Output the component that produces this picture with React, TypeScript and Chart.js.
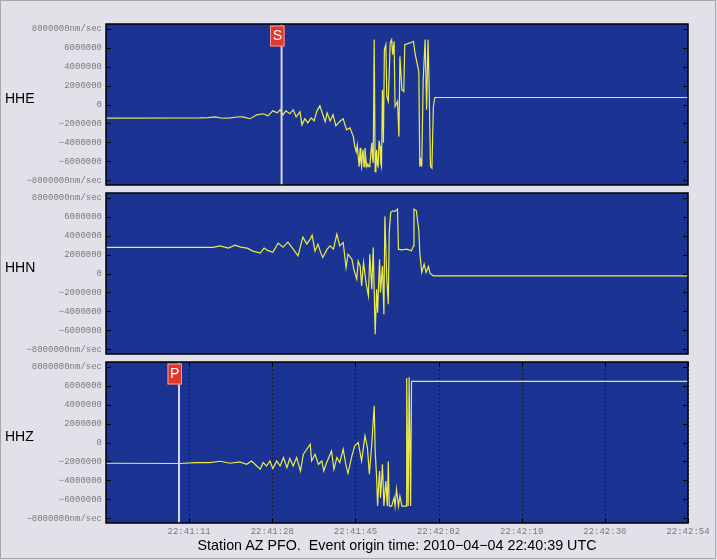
import React, { useEffect, useRef } from 'react';
import { Chart, registerables } from 'chart.js';

Chart.register(...registerables);

// ---------- data (time in seconds after 22:40:54 UTC, amplitude in millions of nm/sec) ----------
const channelNames = ['HHE', 'HHN', 'HHZ'];

const yTickValues = [-8, -6, -4, -2, 0, 2, 4, 6, 8];
const yTickLabels = [
  '\u22128000000nm/sec', '\u22126000000', '\u22124000000', '\u22122000000', '0',
  '2000000', '4000000', '6000000', '8000000nm/sec',
];
const xTickSeconds = [17.14, 34.29, 51.43, 68.57, 85.71, 102.86, 120];
const xTickLabels = ['22:41:11', '22:41:28', '22:41:45', '22:42:02', '22:42:19', '22:42:36', '22:42:54'];

const hheTimes = [
  0, 19.4, 21.0, 22.5, 24.0, 25.6, 27.0, 28.2, 29.7, 31.1, 32.4, 33.4, 34.4, 35.3, 35.9, 36.5, 37.1, 37.9,
  38.6, 39.2, 40.0, 40.4, 41.0, 41.6, 42.3, 42.9, 43.5, 44.1, 44.5, 45.2, 45.6, 46.2, 46.8, 47.4, 48.2,
  48.9, 49.6, 50.3, 51.0, 51.3, 51.6, 51.8, 52.0, 52.2, 52.4, 52.55, 52.7, 52.85, 53.0, 53.2, 53.4, 53.6,
  53.8, 54.0, 54.2, 54.4, 54.6, 54.8, 54.95, 55.1, 55.3, 55.5, 55.65, 55.8, 55.95, 56.1, 56.3, 56.5, 56.65,
  56.8, 57.0, 57.2, 57.4, 57.7, 57.9, 58.2, 58.6, 58.9, 59.1, 59.4, 59.6, 60.1, 60.4, 60.6, 61.0, 61.4,
  61.6, 62.7, 63.4, 63.7, 64.2, 64.5, 64.7, 64.9, 65.1, 65.4, 65.8, 66.1, 66.4, 66.6, 66.9, 67.2, 67.5,
  67.8, 120,
];
const hheValues = [
  -1.44, -1.41, -1.38, -1.3, -1.45, -1.41, -1.32, -1.3, -1.5, -1.09, -0.98, -1.2, -0.67, -0.88, -0.56, -1.09, -0.67, -0.98,
  -0.56, -1.3, -0.77, -2.15, -1.5, -1.94, -1.41, -1.73, -0.67, -0.14, -0.77, -1.83, -0.88, -1.73, -1.09, -2.25, -1.8,
  -1.51, -2.68, -2.47, -3.39, -4.44, -5.0, -4.3, -5.5, -6.56, -4.58, -6.0, -6.56, -5.4, -4.79, -6.56, -4.58, -5.9,
  -6.56, -6.3, -6.56, -6.56, -5.2, -4.05, -5.6, -6.17, 6.85, -7.09, -5.5, -4.79, -6.4, -6.56, -3.8, -4.44, -6.2,
  -6.56, 1.56, -4.05, 5.79, 6.32, 0.85, 0.32, 6.5, 6.85, 5.26, 6.67, -0.21, 0.32, -3.39, 5.08, 1.56, 1.38,
  6.32, 6.5, 6.67, 5.44, 4.2, 3.49, -6.56, -5.9, -6.56, 2.61, 6.85, -0.56, 6.85, 2.61, -6.56, -6.73, -0.21,
  0.74, 0.74,
];

const hhnTimes = [
  0, 22.1, 23.5, 25.2, 26.6, 27.8, 29.1, 30.3, 31.8, 32.6, 33.2, 34.4, 35.5, 36.5, 37.5, 38.6, 39.6, 40.2,
  40.6, 41.4, 42.1, 42.5, 43.1, 43.7, 44.3, 44.7, 45.6, 46.2, 46.9, 47.6, 48.2, 48.9, 49.5, 49.9, 50.7,
  51.1, 51.7, 52.0, 52.4, 52.7, 53.1, 53.6, 54.1, 54.4, 54.8, 55.1, 55.5, 55.8, 56.0, 56.4, 56.6, 57.0,
  57.3, 57.5, 57.9, 58.2, 58.4, 58.7, 59.1, 59.6, 60.1, 60.3, 61.0, 62.0, 63.0, 63.4, 63.5, 64.0, 64.2,
  64.5, 64.7, 65.1, 65.6, 66.0, 66.5, 66.8, 67.5, 120,
];
const hhnValues = [
  2.75, 2.75, 2.92, 2.68, 3.0, 2.78, 2.68, 2.36, 2.15, 2.68, 2.47, 2.25, 3.21, 2.78, 3.31, 2.57, 1.86, 3.1,
  3.84, 3.1, 3.63, 4.05, 2.36, 3.1, 2.15, 1.69, 2.57, 2.92, 2.57, 4.16, 2.92, 3.28, 0.63, 2.04, 1.51,
  0.46, -0.6, 1.3, 0.8, -1.31, 1.16, -0.95, -2.37, 2.04, -1.66, 2.75, -6.42, -1.66, -4.13, 1.51, -2.01, 0.8,
  -4.31, 6.03, -0.6, -3.25, 4.34, 6.46, 6.62, 6.56, 6.8, 2.57, 2.5, 2.57, 2.39, 2.92, 6.8, 6.62, 5.75,
  4.51, 2.22, 0.11, 0.98, 0.11, 0.74, 0.03, -0.25, -0.25,
];

const hhzTimes = [
  0, 15.3, 18.4, 21.4, 23.5, 25.6, 27.6, 29.0, 30.0, 31.1, 31.8, 32.4, 33.1, 33.8, 34.4, 35.2, 35.9, 36.6,
  37.3, 37.9, 38.6, 39.3, 40.1, 40.7, 41.4, 42.1, 42.4, 43.1, 43.8, 44.5, 44.9, 45.5, 46.5, 47.0, 47.6,
  48.2, 48.9, 49.5, 49.9, 50.7, 51.3, 52.0, 52.7, 53.4, 53.9, 54.3, 54.8, 55.3, 55.5, 55.8, 56.0, 56.2,
  56.4, 56.6, 56.8, 57.0, 57.3, 57.5, 57.7, 58.0, 58.2, 58.4, 58.9, 59.4, 59.6, 59.9, 60.3, 60.6, 61.0,
  61.9, 62.0, 62.3, 62.5, 62.8, 63.0, 120,
];
const hhzValues = [
  -2.19, -2.22, -2.12, -2.12, -1.98, -2.19, -2.05, -2.3, -1.95, -2.48, -2.83, -2.12, -2.48, -1.95, -2.75, -1.95, -2.48, -1.59,
  -2.65, -1.69, -2.48, -1.59, -3.01, -1.24, -0.71, -0.18, -1.95, -1.24, -2.3, -1.95, -3.01, -2.12, -0.89, -2.83, -1.59,
  -2.12, -0.71, -2.48, -3.25, -1.42, -0.36, 0.0, -1.95, 0.7, -0.53, -3.35, -0.18, 3.87, -0.89, -3.7, -6.71, -4.6,
  -3.01, -5.82, -4.2, -2.3, -6.71, -5.3, -4.06, -6.71, -2.01, -6.71, -6.71, -5.82, -6.71, -4.94, -6.71, -5.65, -6.71,
  -6.71, 6.8, -6.71, 6.88, -6.71, 6.46, 6.46,
];

const pickLabels = ['S', '', 'P'];
const pickSeconds = [36.2, null, 15.05];

const titleText = 'Station AZ PFO.  Event origin time: 2010\u221204\u221204 22:40:39 UTC';

// ---------- styling ----------
const PAGE_BG = '#e1e1ea';
const PLOT_BG = '#1b3494';
const TRACE = '#ecec48';
const MONO = '"Liberation Mono", "Courier New", monospace';
const SANS = '"Liberation Sans", Arial, sans-serif';

const PLOT_LEFT = 106;
const PLOT_RIGHT = 688;
const PANEL_H = 161;
const panelTops = [24, 193, 362];

type PanelProps = {
  times: number[];
  values: number[];
  top: number;
  showX: boolean;
  pickT: number | null;
  pickLabel: string;
};

function Panel({ times, values, top, showX, pickT, pickLabel }: PanelProps) {
  const ref = useRef<HTMLCanvasElement>(null);
  const padTop = 10;
  const bottomSpace = showX ? 30 : 10;
  const h = PANEL_H + padTop + bottomSpace;

  useEffect(() => {
    const decor = {
      id: 'decor',
      beforeDraw(chart: any) {
        const { ctx, chartArea: a, scales } = chart;
        ctx.save();
        ctx.fillStyle = PLOT_BG;
        ctx.fillRect(a.left, a.top, a.right - a.left, a.bottom - a.top);
        if (showX) {
          ctx.strokeStyle = '#000';
          ctx.lineWidth = 1;
          ctx.setLineDash([1, 3]);
          for (const v of xTickSeconds) {
            const x = Math.round(scales.x.getPixelForValue(v)) + 0.5;
            ctx.beginPath();
            ctx.moveTo(x, a.top);
            ctx.lineTo(x, a.bottom);
            ctx.stroke();
          }
        }
        ctx.restore();
      },
      afterDatasetsDraw(chart: any) {
        const { ctx, chartArea: a, scales } = chart;
        ctx.save();
        if (pickT !== null) {
          const x = scales.x.getPixelForValue(pickT);
          ctx.strokeStyle = '#d6d6e2';
          ctx.lineWidth = 2;
          ctx.beginPath();
          ctx.moveTo(x, a.top);
          ctx.lineTo(x, a.bottom);
          ctx.stroke();
          const bx = x - 11.5;
          const by = a.top + 1.5;
          ctx.fillStyle = '#e4372c';
          ctx.fillRect(bx, by, 14.5, 21);
          ctx.strokeStyle = '#e8a0a0';
          ctx.lineWidth = 1;
          ctx.strokeRect(bx + 0.5, by + 0.5, 13.5, 20);
          ctx.fillStyle = '#ffffff';
          ctx.font = '14px ' + SANS;
          ctx.textAlign = 'center';
          ctx.textBaseline = 'middle';
          ctx.fillText(pickLabel, bx + 7.25, by + 11);
        }
        ctx.strokeStyle = '#000';
        ctx.lineWidth = 1;
        ctx.setLineDash([]);
        for (const v of yTickValues) {
          const y = Math.round(scales.y.getPixelForValue(v)) + 0.5;
          ctx.beginPath();
          ctx.moveTo(a.left, y);
          ctx.lineTo(a.left + 5, y);
          ctx.moveTo(a.right - 5, y);
          ctx.lineTo(a.right, y);
          ctx.stroke();
        }
        if (showX) {
          for (const v of xTickSeconds) {
            const x = Math.round(scales.x.getPixelForValue(v)) + 0.5;
            ctx.beginPath();
            ctx.moveTo(x, a.top);
            ctx.lineTo(x, a.top + 5);
            ctx.moveTo(x, a.bottom - 5);
            ctx.lineTo(x, a.bottom);
            ctx.stroke();
          }
        }
        ctx.lineWidth = 1.5;
        ctx.strokeRect(a.left, a.top, a.right - a.left, a.bottom - a.top);
        ctx.restore();
      },
    };

    const chart = new Chart(ref.current as HTMLCanvasElement, {
      type: 'line',
      data: {
        datasets: [
          {
            data: times.map((t, i) => ({ x: t, y: values[i] })),
            borderColor: TRACE,
            borderWidth: 1.2,
            pointRadius: 0,
            tension: 0,
            fill: false,
          },
        ],
      },
      options: {
        animation: false,
        responsive: false,
        maintainAspectRatio: false,
        events: [],
        layout: { padding: { left: 0, right: 717 - PLOT_RIGHT, top: padTop, bottom: showX ? 0 : bottomSpace } },
        plugins: { legend: { display: false }, tooltip: { enabled: false }, title: { display: false } },
        scales: {
          x: {
            type: 'linear',
            min: 0,
            max: 120,
            display: showX,
            grid: { display: false, drawTicks: false },
            border: { display: false },
            afterBuildTicks: (s: any) => {
              s.ticks = xTickSeconds.map((value) => ({ value }));
            },
            afterFit: (s: any) => {
              if (showX) s.height = bottomSpace;
            },
            ticks: {
              autoSkip: false,
              maxRotation: 0,
              minRotation: 0,
              padding: 3,
              color: '#7a7a7a',
              font: { family: MONO, size: 9 },
              callback: (_v: any, i: number) => xTickLabels[i],
            },
          },
          y: {
            type: 'linear',
            min: -8.5,
            max: 8.5,
            grid: { display: false, drawTicks: false },
            border: { display: false },
            afterBuildTicks: (s: any) => {
              s.ticks = yTickValues.map((value) => ({ value }));
            },
            afterFit: (s: any) => {
              s.width = PLOT_LEFT;
            },
            ticks: {
              padding: 4,
              color: '#7a7a7a',
              font: { family: MONO, size: 9 },
              callback: (_v: any, i: number) => yTickLabels[i],
            },
          },
        },
      },
      plugins: [decor],
    } as any);
    return () => chart.destroy();
  }, []);

  return (
    <canvas
      ref={ref}
      width={717}
      height={h}
      style={{ position: 'absolute', left: 0, top: top - padTop, width: 717, height: h, display: 'block' }}
    />
  );
}

export default function App() {
  const series = [
    { times: hheTimes, values: hheValues },
    { times: hhnTimes, values: hhnValues },
    { times: hhzTimes, values: hhzValues },
  ];
  return (
    <div style={{ position: 'absolute', left: 0, top: 0, width: 717, height: 560, background: PAGE_BG, overflow: 'hidden' }}>
      <div
        style={{
          position: 'absolute',
          left: 0,
          top: 0,
          width: 716,
          height: 559,
          boxSizing: 'border-box',
          border: '1px solid #a8a8a8',
        }}
      />
      {series.map((s, i) => (
        <Panel
          key={channelNames[i]}
          times={s.times}
          values={s.values}
          top={panelTops[i]}
          showX={i === 2}
          pickT={pickSeconds[i]}
          pickLabel={pickLabels[i]}
        />
      ))}
      {channelNames.map((n, i) => (
        <div
          key={n}
          style={{
            position: 'absolute',
            left: 5,
            top: panelTops[i] + 66.6,
            fontFamily: SANS,
            fontSize: 14,
            lineHeight: '14px',
            color: '#000',
            whiteSpace: 'pre',
          }}
        >
          {n}
        </div>
      ))}
      <div
        style={{
          position: 'absolute',
          left: (PLOT_LEFT + PLOT_RIGHT) / 2,
          top: 538,
          transform: 'translateX(-50%)',
          fontFamily: SANS,
          fontSize: 14.3,
          lineHeight: '14px',
          color: '#000',
          whiteSpace: 'pre',
        }}
      >
        {titleText}
      </div>
    </div>
  );
}
